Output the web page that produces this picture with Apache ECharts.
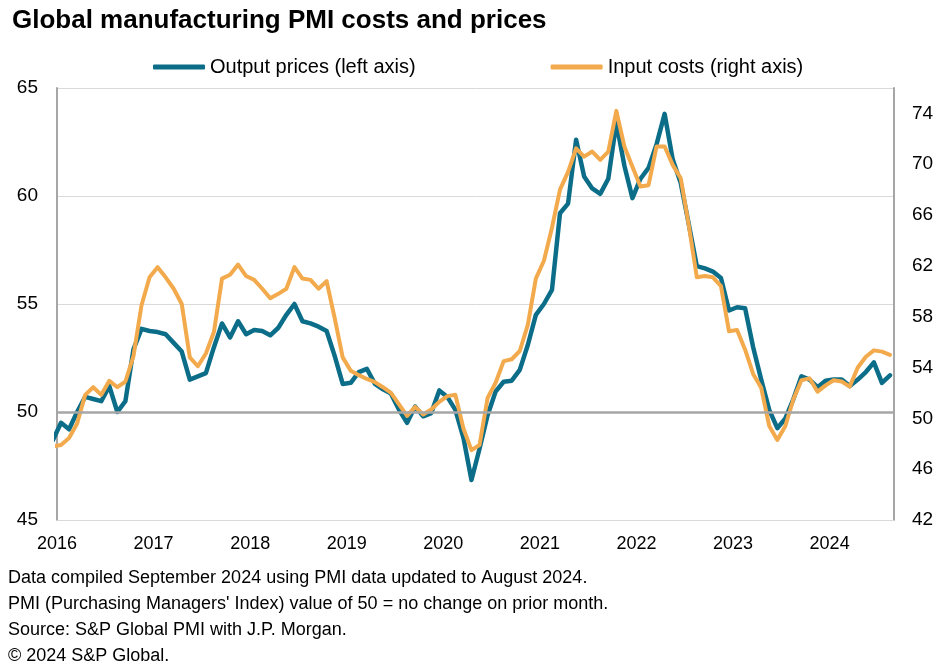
<!DOCTYPE html>
<html>
<head>
<meta charset="utf-8">
<script src="https://cdn.jsdelivr.net/npm/echarts@6/dist/echarts.min.js"></script>
<style>html,body{margin:0;padding:0;background:#fff}#c{width:951px;height:669px}</style>
</head>
<body>
<div id="c"></div>
<script>
// Monthly observations: Dec 2015 (partly clipped at left edge) .. Aug 2024
const firstMonth = { year: 2015, month: 12 };
const yearTicks = ['2016','2017','2018','2019','2020','2021','2022','2023','2024'];
const leftTicks = [45, 50, 55, 60, 65];
const rightTicks = [42, 46, 50, 54, 58, 62, 66, 70, 74];

// Output prices (left axis)
const outputPrices = [
  48.7,
  49.5, 49.2, 50.0, 50.7, 50.6, 50.5, 51.2, 50.0, 50.5, 52.9, 53.85, 53.75,
  53.7, 53.6, 53.2, 52.8, 51.5, 51.65, 51.8, 53.0, 54.1, 53.45, 54.2, 53.6,
  53.8, 53.75, 53.55, 53.9, 54.5, 55.0, 54.2, 54.1, 53.95, 53.75, 52.6, 51.3,
  51.35, 51.85, 52.0, 51.3, 51.05, 50.85, 50.1, 49.5, 50.25, 49.8, 49.95, 51.0,
  50.7, 50.1, 48.8, 46.85, 48.3, 49.85, 50.95, 51.4, 51.45, 51.95, 53.1, 54.5,
  55.0, 55.65, 59.2, 59.65, 62.6, 60.9, 60.35, 60.1, 60.8, 63.4, 61.4, 59.9,
  60.8, 61.3, 62.4, 63.8, 61.7, 60.6, 58.7, 56.75, 56.65, 56.5, 56.2, 54.7,
  54.85, 54.8, 53.0, 51.5, 50.1, 49.25, 49.7, 50.6, 51.65, 51.5, 51.15, 51.45,
  51.5, 51.5, 51.2, 51.5, 51.85, 52.3, 51.35, 51.7
];

// Input costs (right axis)
const inputCosts = [
  47.8,
  47.9, 48.45, 49.6, 51.85, 52.45, 51.85, 52.95, 52.45, 52.9, 54.9, 58.9, 61.1,
  61.9, 61.1, 60.2, 59.0, 54.8, 54.1, 55.1, 56.8, 61.0, 61.3, 62.1, 61.2,
  60.9, 60.2, 59.45, 59.8, 60.2, 61.9, 61.0, 60.9, 60.2, 60.8, 57.9, 54.8,
  53.75, 53.4, 53.1, 52.85, 52.45, 52.0, 51.1, 50.2, 50.9, 50.3, 50.7, 51.3,
  51.75, 51.85, 49.2, 47.5, 47.9, 51.6, 52.8, 54.5, 54.65, 55.3, 57.35, 61.0,
  62.4, 65.0, 68.0, 69.4, 71.25, 70.6, 71.0, 70.35, 71.0, 74.2, 71.4, 69.8,
  68.25, 68.35, 71.4, 71.4, 69.95, 68.9, 65.2, 61.1, 61.2, 61.1, 60.4, 56.85,
  56.95, 55.4, 53.5, 52.4, 49.4, 48.3, 49.4, 51.5, 53.0, 53.15, 52.1, 52.6,
  53.0, 52.9, 52.5, 54.0, 54.85, 55.35, 55.25, 55.0
];

const notes = [
  'Data compiled September 2024 using PMI data updated to August 2024.',
  "PMI (Purchasing Managers' Index) value of 50 = no change on prior month.",
  'Source: S&P Global PMI with J.P. Morgan.',
  '\u00A9 2024 S&P Global.'
];

// x position: months elapsed since 1 Jan 2016, points placed mid-month
function monthPos(k) {
  const y = firstMonth.year + Math.floor((firstMonth.month - 1 + k) / 12);
  const m = (firstMonth.month - 1 + k) % 12;
  return (y - 2016) * 12 + m + 0.5;
}
const outData = outputPrices.map((v, k) => [monthPos(k), v]);
const inData = inputCosts.map((v, k) => [monthPos(k), v]);

const FONT = 'Liberation Sans, Arial, sans-serif';
const TEAL = '#0C6D89';
const ORANGE = '#F2AA4C';

const chart = echarts.init(document.getElementById('c'), null, { renderer: 'canvas' });
chart.setOption({
  animation: false,
  backgroundColor: '#fff',
  textStyle: { fontFamily: FONT },
  title: {
    text: 'Global manufacturing PMI costs and prices',
    left: 7, top: 3,
    textStyle: { fontFamily: FONT, fontSize: 26, fontWeight: 'bold', color: '#000' }
  },
  legend: {
    data: ['Output prices (left axis)', 'Input costs (right axis)'],
    left: 148, top: 52,
    icon: 'roundRect',
    itemWidth: 52, itemHeight: 5,
    itemGap: 135,
    textStyle: { fontFamily: FONT, fontSize: 20, color: '#000' }
  },
  grid: { left: 57, right: 57, top: 88, bottom: 149 },
  xAxis: {
    type: 'value', min: 0, max: 104, interval: 12,
    axisLine: { show: true, lineStyle: { color: '#d9d9d9', width: 1 } },
    axisTick: { show: false },
    splitLine: { show: false },
    axisLabel: {
      margin: 15, fontSize: 18, color: '#000', fontFamily: FONT,
      showMaxLabel: false,
      formatter: v => (v % 12 === 0 && v / 12 < yearTicks.length) ? yearTicks[v / 12] : ''
    }
  },
  yAxis: [
    {
      type: 'value', position: 'left', min: 45, max: 65, interval: 5,
      axisLine: { show: true, lineStyle: { color: '#a6a6a6', width: 2 } },
      axisTick: { show: false },
      splitLine: { show: true, lineStyle: { color: '#d9d9d9', width: 1 } },
      axisLabel: {
        margin: 19, fontSize: 19, color: '#000', fontFamily: FONT,
        formatter: v => leftTicks.includes(v) ? String(v) : ''
      }
    },
    {
      type: 'value', position: 'right', min: 42, max: 76, interval: 2,
      axisLine: { show: true, lineStyle: { color: '#a6a6a6', width: 2 } },
      axisTick: { show: false },
      splitLine: { show: false },
      axisLabel: {
        margin: 18, fontSize: 19, color: '#000', fontFamily: FONT,
        formatter: v => rightTicks.includes(v) ? String(v) : ''
      }
    }
  ],
  series: [
    {
      name: 'ref50', type: 'line', data: [], yAxisIndex: 0, z: 1, silent: true,
      markLine: {
        silent: true, symbol: 'none', label: { show: false },
        lineStyle: { color: '#a6a6a6', width: 2.5, type: 'solid' },
        data: [{ yAxis: 50 }]
      }
    },
    {
      name: 'Output prices (left axis)', type: 'line', yAxisIndex: 0, z: 3,
      data: outData, showSymbol: false, symbol: 'none', clip: true,
      color: TEAL,
      lineStyle: { color: TEAL, width: 4.5, join: 'round', cap: 'round' }
    },
    {
      name: 'Input costs (right axis)', type: 'line', yAxisIndex: 1, z: 4,
      data: inData, showSymbol: false, symbol: 'none', clip: true,
      color: ORANGE,
      lineStyle: { color: ORANGE, width: 4, join: 'round', cap: 'round' }
    }
  ],
  graphic: [
    {
      type: 'text', left: 8, top: 565,
      style: {
        text: notes.join('\n'),
        font: '18px ' + FONT,
        fill: '#000',
        lineHeight: 26
      }
    }
  ]
});
</script>
</body>
</html>
